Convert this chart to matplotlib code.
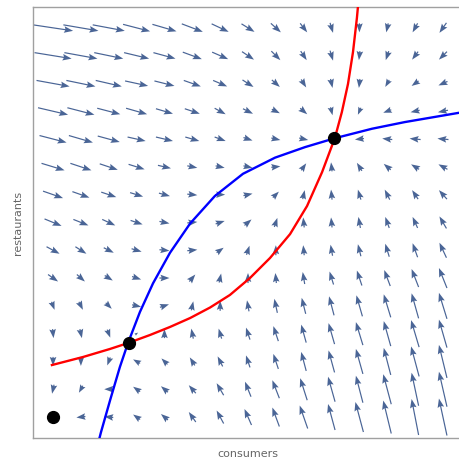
import numpy as np
import matplotlib.pyplot as plt

# vector field, 15 x 15 grid, top row first (px units, dy up)
u_rows = [
    [40, 35, 32, 27, 24, 21, 17, 13, 10, 7, 3, 0, -2, -5, -7],
    [37, 33, 29, 25, 22, 19, 16, 12, 9, 6, 3, -1, -3, -6, -8],
    [33, 29, 26, 23, 20, 17, 14, 11, 8, 5, 2, -1, -4, -7, -9],
    [30, 27, 23, 21, 17, 15, 11, 10, 8, 7, 2, -3, -8, -9, -10],
    [27, 24, 22, 18, 17, 14, 11, 9, 9, 9, 3, -9, -10, -11, -11],
    [23, 21, 18, 16, 13, 10, 9, 9, 9, 5, -1, -5, -7, -8, -9],
    [20, 17, 15, 13, 11, 10, 10, 9, 6, 2, -1, -3, -5, -6, -8],
    [17, 15, 13, 12, 10, 10, 9, 7, 3, -1, -1, -2, -4, -5, -7],
    [13, 11, 10, 10, 10, 10, 7, 3, 0, -1, -2, -3, -4, -5, -7],
    [10, 8, 8, 9, 10, 6, 2, 0, -1, -2, -4, -5, -6, -7, -8],
    [3, 4, 6, 9, 9, 2, 0, -2, -3, -4, -5, -6, -7, -7, -8],
    [1, 2, 3, 3, 0, -2, -3, -4, -5, -5, -6, -7, -7, -8, -8],
    [0, 0, -3, -7, -6, -5, -5, -4, -5, -5, -6, -7, -7, -8, -8],
    [-2, -4, -9, -7, -7, -7, -7, -6, -7, -7, -7, -7, -8, -7, -8],
    [np.nan, -9, -9, -7, -7, -7, -7, -7, -7, -8, -7, -8, -8, -7, -8],
]
v_rows = [
    [-6, -6, -6, -7, -7, -8, -8, -8, -9, -9, -10, -9, -9, -9, -10],
    [-6, -6, -6, -6, -6, -7, -7, -8, -9, -9, -10, -9, -9, -8, -8],
    [-6, -6, -6, -5, -5, -6, -6, -7, -7, -8, -9, -9, -7, -5, -4],
    [-7, -7, -6, -6, -5, -5, -6, -5, -4, -6, -8, -7, -3, -2, -2],
    [-7, -7, -6, -4, -4, -4, -4, -3, -2, -2, -3, -1, 1, 1, 1],
    [-7, -7, -6, -5, -3, -2, -2, -2, 1, 7, 9, 8, 6, 5, 5],
    [-7, -6, -5, -4, -3, -1, 0, 2, 6, 9, 10, 10, 10, 9, 9],
    [-7, -6, -6, -4, -2, 1, 3, 6, 9, 10, 10, 11, 11, 11, 12],
    [-7, -7, -5, -3, -1, 1, 5, 9, 10, 10, 11, 12, 13, 14, 15],
    [-7, -7, -5, -3, 0, 7, 9, 10, 10, 12, 13, 15, 16, 18, 20],
    [-8, -8, -6, -2, 3, 9, 10, 11, 14, 16, 19, 21, 23, 25, 26],
    [-9, -9, -8, 2, 9, 10, 10, 12, 15, 18, 21, 23, 25, 27, 28],
    [-9, -9, -8, 4, 6, 8, 10, 12, 15, 19, 22, 25, 27, 30, 33],
    [-9, -7, 0, 5, 6, 8, 12, 15, 18, 22, 25, 27, 30, 33, 35],
    [np.nan, -1, 1, 5, 6, 10, 13, 16, 19, 23, 26, 30, 33, 36, 37],
]

# nullclines
red_x = [-0.04, 1.08, 2.05, 2.69, 3.48, 4.20, 4.92, 5.64, 6.35, 7.07, 7.79, 8.51,
         9.12, 9.66, 10.12, 10.37, 10.59, 10.77, 10.91, 10.97]
red_y = [1.87, 2.16, 2.45, 2.66, 2.95, 3.24, 3.56, 3.94, 4.39, 5.00, 5.72, 6.58,
         7.59, 8.81, 10.04, 10.97, 11.98, 13.13, 14.35, 15.0]
blue_x = [1.62, 1.72, 2.05, 2.40, 2.69, 3.12, 3.59, 4.20, 4.92, 5.81, 6.82, 7.97,
          9.05, 10.12, 11.45, 12.63, 14.61, 14.97]
blue_y = [-0.94, -0.55, 0.61, 1.80, 2.66, 3.78, 4.81, 5.91, 6.96, 7.95, 8.75, 9.33,
          9.71, 10.03, 10.37, 10.61, 10.95, 11.00]

# equilibria
eq_x = [0.0, 2.71, 10.1]
eq_y = [0.0, 2.65, 10.04]

n = 15
X, Y = np.meshgrid(np.arange(n), np.arange(n)[::-1])
U = np.array(u_rows, dtype=float)
V = np.array(v_rows, dtype=float)

fig = plt.figure(figsize=(4.59, 4.65), dpi=100)
ax = fig.add_axes([33 / 459, 27 / 465, 430 / 459, 431 / 465])

ax.quiver(X, Y, U, V, pivot='middle', angles='xy', scale_units='xy', scale=27.8,
          units='dots', width=1.2, headwidth=5.5, headlength=7.5, headaxislength=6.5,
          color='#4a6596', zorder=2)

ax.plot(red_x, red_y, color='red', lw=1.7, zorder=3)
ax.plot(blue_x, blue_y, color='blue', lw=1.7, zorder=3)
ax.plot(eq_x, eq_y, 'o', color='black', ms=8.5, zorder=4)

ax.set_xlim(-0.72, 14.72)
ax.set_ylim(-0.755, 14.75)
ax.set_xticks([])
ax.set_yticks([])
for s in ax.spines.values():
    s.set_color('#a0a0a0')
    s.set_linewidth(1.0)

ax.set_xlabel('consumers', fontsize=8, color='#666666', labelpad=8)
ax.set_ylabel('restaurants', fontsize=8, color='#666666', labelpad=7)

fig.savefig('out.png', dpi=100)
